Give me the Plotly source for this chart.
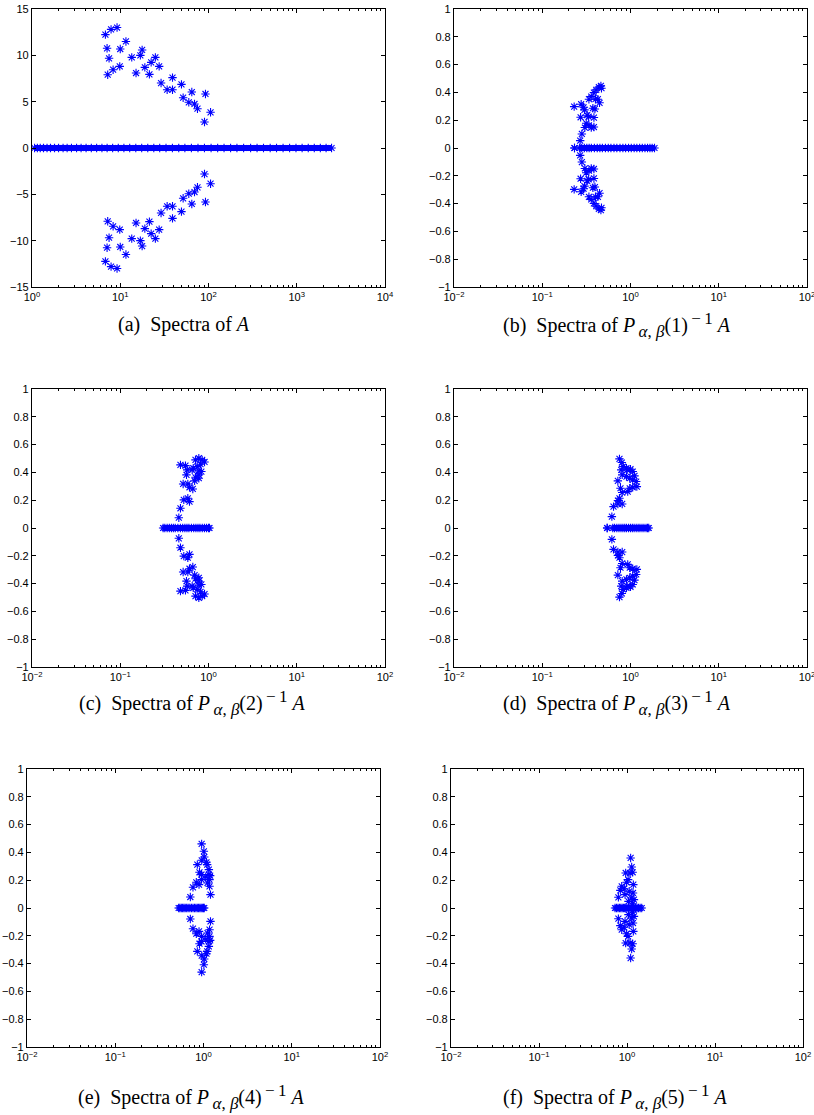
import plotly.graph_objects as go

BLUE = "#0000ff"

# ---------------- data ----------------
# (a) Spectra of A
a_real = [1.07, 1.15, 1.24, 1.35, 1.48, 1.62, 1.8, 2.0, 2.25, 2.5, 2.8, 3.2, 3.6, 4.1, 4.7,
          5.4, 6.2, 7.1, 8.2, 9.5, 11, 12.8, 15, 17.5, 20.5, 24, 28, 33, 39, 46, 54, 64,
          76, 90, 107, 127, 150, 178, 210, 250, 300, 355, 420, 500, 590, 700, 830, 980,
          1150, 1350, 1580, 1850, 2150, 2480]
a_cplx_re = [6.79, 7.87, 9.2, 7.09, 7.47, 7.21, 8.3, 9.87, 10.0, 11.6, 13.5, 15.1, 16.9, 17.7,
             19.0, 21.4, 22.4, 25.0, 27.6, 29.0, 34.0, 39.1, 39.1, 49.4, 51.6, 59.8, 64.7,
             69.4, 75.0, 92.4, 90.1, 105.5]
a_cplx_im_pos = [12.23, 12.8, 13.0, 10.76, 9.68, 7.91, 8.45, 8.81, 10.68, 11.5, 9.78, 8.09,
                 10.0, 10.58, 8.7, 7.95, 9.24, 9.78, 8.81, 7.01, 6.29, 7.59, 6.29, 6.87, 5.43,
                 4.93, 6.04, 4.75, 4.24, 5.83, 2.81, 3.85]
a_cplx_im_neg = [-12.23, -12.8, -13.0, -10.76, -9.68, -7.91, -8.45, -8.81, -10.68, -11.5,
                 -9.78, -8.09, -10.0, -10.58, -8.7, -7.95, -9.24, -9.78, -8.81, -7.01, -6.29,
                 -7.59, -6.29, -6.87, -5.43, -4.93, -6.04, -4.75, -4.24, -5.83, -2.81, -3.85]

# (b) Spectra of P(1)^-1 A
b_real = [0.265, 0.28, 0.30, 0.32, 0.34, 0.36, 0.39, 0.42, 0.45, 0.48, 0.52, 0.56, 0.60, 0.65,
          0.70, 0.76, 0.82, 0.88, 0.95, 1.02, 1.1, 1.18, 1.27, 1.36, 1.46, 1.56, 1.66, 1.76, 1.87]
b_cplx_re = [0.232, 0.230, 0.276, 0.294, 0.301, 0.272, 0.323, 0.335, 0.304, 0.338, 0.359, 0.385,
             0.281, 0.269, 0.375, 0.395, 0.338, 0.359, 0.385, 0.409, 0.438, 0.462, 0.469,
             0.427, 0.446, 0.401, 0.315, 0.385]
b_cplx_im_pos = [0.0, 0.298, 0.315, 0.293, 0.274, 0.221, 0.236, 0.226, 0.147, 0.163, 0.147,
                 0.151, 0.101, 0.053, 0.286, 0.281, 0.351, 0.370, 0.399, 0.418, 0.438, 0.447,
                 0.430, 0.351, 0.325, 0.351, 0.178, 0.219]
b_cplx_im_neg = [0.0, -0.298, -0.315, -0.293, -0.274, -0.221, -0.236, -0.226, -0.147, -0.163,
                 -0.147, -0.151, -0.101, -0.053, -0.286, -0.281, -0.351, -0.370, -0.399,
                 -0.418, -0.438, -0.447, -0.430, -0.351, -0.325, -0.351, -0.178, -0.219]

# (c) Spectra of P(2)^-1 A
c_real = [0.306, 0.32, 0.34, 0.36, 0.38, 0.40, 0.42, 0.45, 0.48, 0.51, 0.54, 0.57, 0.60,
          0.64, 0.68, 0.72, 0.76, 0.80, 0.85, 0.90, 0.95, 1.0, 1.026]
c_cplx_re = [0.481, 0.548, 0.573, 0.563, 0.516, 0.583, 0.609, 0.664, 0.525, 0.583, 0.609,
             0.481, 0.461, 0.653, 0.712, 0.777, 0.848, 0.902, 0.812, 0.744, 0.712, 0.777,
             0.696, 0.672, 0.78, 0.777, 0.83]
c_cplx_im_pos = [0.454, 0.449, 0.418, 0.382, 0.317, 0.317, 0.293, 0.281, 0.202, 0.214, 0.190,
                 0.142, 0.074, 0.418, 0.490, 0.502, 0.490, 0.475, 0.459, 0.442, 0.365, 0.358,
                 0.339, 0.430, 0.41, 0.382, 0.406]
c_cplx_im_neg = [-0.454, -0.449, -0.418, -0.382, -0.317, -0.317, -0.293, -0.281, -0.202,
                 -0.214, -0.190, -0.142, -0.074, -0.418, -0.490, -0.502, -0.490, -0.475,
                 -0.459, -0.442, -0.365, -0.358, -0.339, -0.430, -0.41, -0.382, -0.406]

# (d) Spectra of P(3)^-1 A
d_real = [0.63, 0.66, 0.70, 0.74, 0.78, 0.82, 0.86, 0.90, 0.95, 1.0, 1.05, 1.1, 1.16, 1.22,
          1.28, 1.35, 1.42, 1.5, 1.56, 1.61]
d_cplx_re = [0.544, 0.750, 0.798, 0.825, 0.917, 1.0, 1.06, 1.11, 1.16, 1.18, 1.06, 0.98, 0.93,
             0.805, 0.77, 0.719, 0.805, 0.90, 0.98, 1.06, 0.785, 0.90, 0.75, 0.72, 0.805,
             0.72, 0.642, 0.615]
d_cplx_im_pos = [0.0, 0.497, 0.471, 0.442, 0.418, 0.423, 0.406, 0.375, 0.334, 0.298, 0.293,
                 0.286, 0.262, 0.255, 0.286, 0.339, 0.382, 0.370, 0.358, 0.346, 0.418, 0.43,
                 0.214, 0.197, 0.173, 0.173, 0.154, 0.082]
d_cplx_im_neg = [0.0, -0.497, -0.471, -0.442, -0.418, -0.423, -0.406, -0.375, -0.334, -0.298,
                 -0.293, -0.286, -0.262, -0.255, -0.286, -0.339, -0.382, -0.370, -0.358,
                 -0.346, -0.418, -0.43, -0.214, -0.197, -0.173, -0.173, -0.154, -0.082]

# (e) Spectra of P(4)^-1 A
e_real = [0.523, 0.54, 0.56, 0.58, 0.60, 0.62, 0.645, 0.67, 0.70, 0.73, 0.76, 0.79, 0.82,
          0.85, 0.88, 0.91, 0.94, 0.97, 1.0, 1.02]
e_cplx_re = [0.953, 1.01, 1.02, 0.955, 0.851, 1.10, 1.15, 0.90, 0.95, 1.19, 1.17, 1.06, 0.95,
             0.829, 0.89, 0.760, 1.11, 1.17, 1.20, 0.709, 1.08, 1.15]
e_cplx_im_pos = [0.461, 0.408, 0.367, 0.343, 0.312, 0.312, 0.276, 0.257, 0.240, 0.233, 0.204,
                 0.223, 0.204, 0.185, 0.168, 0.149, 0.180, 0.156, 0.096, 0.079, 0.329, 0.24]
e_cplx_im_neg = [-0.461, -0.408, -0.367, -0.343, -0.312, -0.312, -0.276, -0.257, -0.240,
                 -0.233, -0.204, -0.223, -0.204, -0.185, -0.168, -0.149, -0.180, -0.156,
                 -0.096, -0.079, -0.329, -0.24]

# (f) Spectra of P(5)^-1 A
f_real = [0.731, 0.76, 0.79, 0.82, 0.85, 0.88, 0.91, 0.94, 0.97, 1.0, 1.04, 1.08, 1.12, 1.16,
          1.2, 1.25, 1.3, 1.35, 1.41, 1.47]
f_cplx_re = [1.10, 1.13, 1.16, 1.08, 0.966, 1.03, 0.99, 1.18, 0.871, 0.93, 1.06, 1.17, 0.84,
             0.798, 1.12, 1.20, 0.95, 1.16, 1.04]
f_cplx_im_pos = [0.360, 0.295, 0.257, 0.252, 0.252, 0.204, 0.185, 0.168, 0.156, 0.139, 0.120,
                 0.108, 0.127, 0.077, 0.072, 0.060, 0.096, 0.031, 0.048]
f_cplx_im_neg = [-0.360, -0.295, -0.257, -0.252, -0.252, -0.204, -0.185, -0.168, -0.156,
                 -0.139, -0.120, -0.108, -0.127, -0.077, -0.072, -0.060, -0.096, -0.031,
                 -0.048]

# tick labels
a_xtickvals = [1, 10, 100, 1000, 10000]
a_xticktext = ["10<sup>0</sup>", "10<sup>1</sup>", "10<sup>2</sup>", "10<sup>3</sup>", "10<sup>4</sup>"]
a_ytickvals = [-15, -10, -5, 0, 5, 10, 15]
p_xtickvals = [0.01, 0.1, 1, 10, 100]
p_xticktext = ["10<sup>\u22122</sup>", "10<sup>\u22121</sup>", "10<sup>0</sup>", "10<sup>1</sup>", "10<sup>2</sup>"]
p_ytickvals = [-1, -0.8, -0.6, -0.4, -0.2, 0, 0.2, 0.4, 0.6, 0.8, 1]

caption_labels = ["(a)", "(b)", "(c)", "(d)", "(e)", "(f)"]
caption_index = [None, "1", "2", "3", "4", "5"]


def caption_text(label, k):
    if k is None:
        return label + "\u2002Spectra of <i>A</i>"
    sm = "<span style='font-size:17px'>"
    return (label + "\u2002Spectra of <i>P</i><sub>" + sm + "\u2009<i>\u03b1</i>, <i>\u03b2</i></span></sub>"
            + "(" + k + ")<sup>" + sm + "\u2009\u2212\u20091</span></sup> <i>A</i>")


# ---------------- layout geometry (pixels) ----------------
W, H = 814, 1115
boxes = [  # left, right, top, bottom
    (32, 385, 9, 287), (454, 807, 9, 287),
    (32, 385, 389, 667), (454, 807, 389, 667),
    (27, 380, 769, 1047), (451, 803, 769, 1047),
]
caption_pos = [(184, 325), (617, 325), (192, 703), (617, 703), (191, 1097), (615, 1097)]

panels = [
    (a_real, a_cplx_re, a_cplx_im_pos, a_cplx_im_neg),
    (b_real, b_cplx_re, b_cplx_im_pos, b_cplx_im_neg),
    (c_real, c_cplx_re, c_cplx_im_pos, c_cplx_im_neg),
    (d_real, d_cplx_re, d_cplx_im_pos, d_cplx_im_neg),
    (e_real, e_cplx_re, e_cplx_im_pos, e_cplx_im_neg),
    (f_real, f_cplx_re, f_cplx_im_pos, f_cplx_im_neg),
]

fig = go.Figure()
marker = dict(symbol="asterisk", size=7, color=BLUE, line=dict(color=BLUE, width=1.1))
layout = dict(width=W, height=H, margin=dict(l=0, r=0, t=0, b=0, autoexpand=False),
              paper_bgcolor="white", plot_bgcolor="white", showlegend=False,
              font=dict(family="Liberation Sans, Arial", size=10, color="black"))
annotations = []

for i, (real, cre, cpos, cneg) in enumerate(panels):
    n = i + 1
    xa = "x" if n == 1 else f"x{n}"
    ya = "y" if n == 1 else f"y{n}"
    fig.add_trace(go.Scatter(x=real, y=[0.0] * len(real), mode="lines+markers",
                             line=dict(color=BLUE, width=6), marker=marker,
                             xaxis=xa, yaxis=ya, hoverinfo="skip"))
    fig.add_trace(go.Scatter(x=cre, y=cpos, mode="markers", marker=marker,
                             xaxis=xa, yaxis=ya, hoverinfo="skip"))
    fig.add_trace(go.Scatter(x=cre, y=cneg, mode="markers", marker=marker,
                             xaxis=xa, yaxis=ya, hoverinfo="skip"))

    l, r, t, b = boxes[i]
    if n == 1:
        xr, xtv, xtt = [0, 4], a_xtickvals, a_xticktext
        yr, ytv = [-15, 15], a_ytickvals
    else:
        xr, xtv, xtt = [-2, 2], p_xtickvals, p_xticktext
        yr, ytv = [-1, 1], p_ytickvals
    xkey = "xaxis" if n == 1 else f"xaxis{n}"
    ykey = "yaxis" if n == 1 else f"yaxis{n}"
    layout[xkey] = dict(type="log", range=xr, domain=[l / W, r / W], anchor=ya,
                        automargin=False, ticklabeloverflow="allow",
                        tickvals=xtv, ticktext=xtt, ticks="inside", ticklen=4,
                        tickwidth=0.8, tickcolor="black",
                        minor=dict(ticks="inside", ticklen=2, tickwidth=0.6,
                                   tickcolor="black", dtick="D1"),
                        showline=True, linecolor="black", linewidth=1.2, mirror="ticks",
                        showgrid=False, zeroline=False, fixedrange=True,
                        tickfont=dict(size=11))
    layout[ykey] = dict(range=yr, domain=[1 - b / H, 1 - t / H], anchor=xa,
                        automargin=False, ticklabeloverflow="allow",
                        tickvals=ytv, ticks="inside", ticklen=4, tickwidth=0.8,
                        tickcolor="black", showline=True, linecolor="black",
                        linewidth=1.2, mirror="ticks", showgrid=False, zeroline=False,
                        fixedrange=True, tickfont=dict(size=11))
    cx, cy = caption_pos[i]
    annotations.append(dict(text=caption_text(caption_labels[i], caption_index[i]),
                            x=cx / W, y=1 - cy / H, xref="paper",
                            yref="paper", showarrow=False, xanchor="center",
                            yanchor="middle",
                            font=dict(family="Liberation Serif, DejaVu Serif", size=20,
                                      color="black")))

layout["annotations"] = annotations
fig.update_layout(**layout)
fig.write_html("out.html", config={"displayModeBar": False},
               post_script="document.body.style.margin='0px';")
